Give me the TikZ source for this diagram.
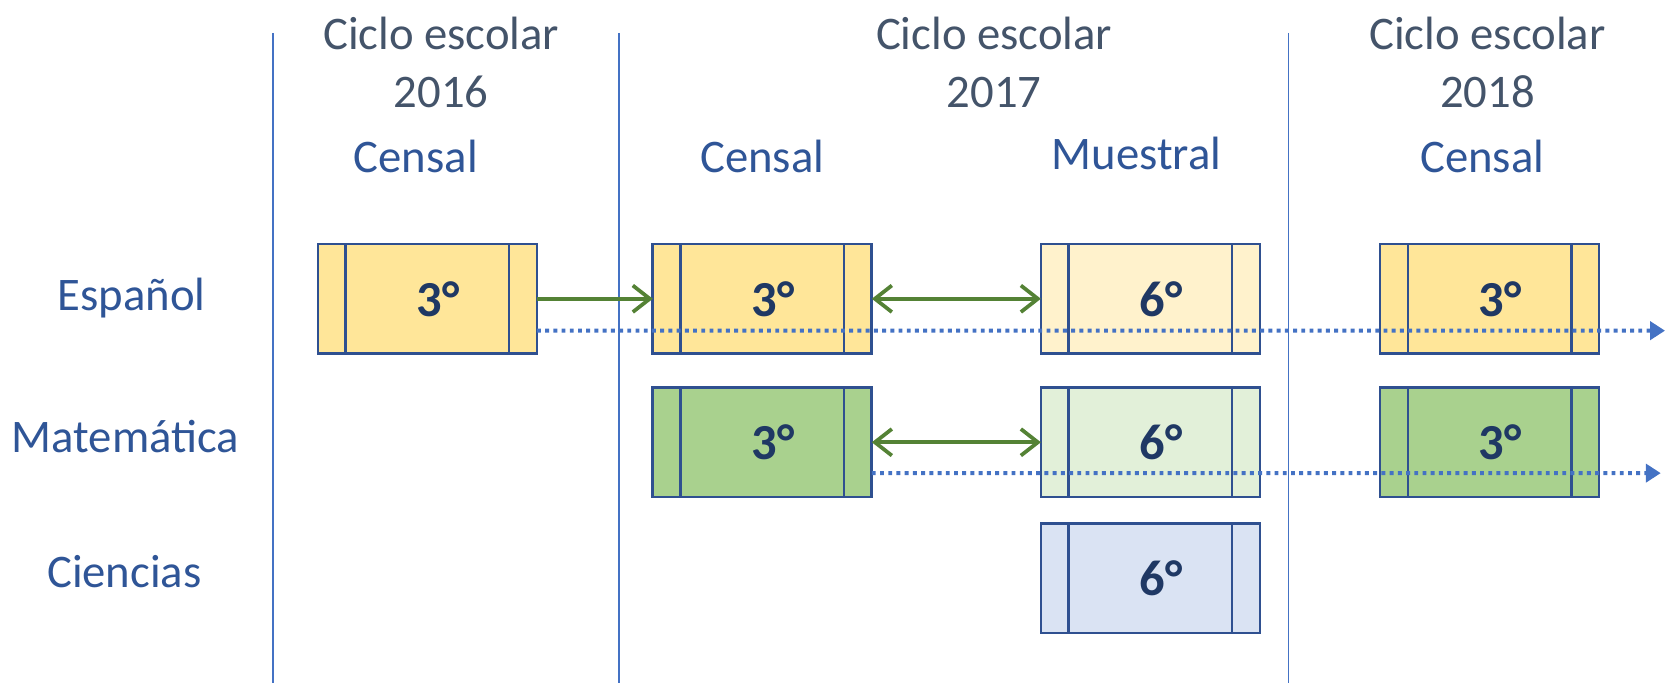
\documentclass[tikz,border=0pt]{standalone}
\usepackage{fontspec}
\setmainfont{Carlito}
\usetikzlibrary{arrows.meta, positioning}

\definecolor{titulo}{HTML}{44546A}
\definecolor{azul}{HTML}{2F5597}
\definecolor{borde}{HTML}{2F5090}
\definecolor{numero}{HTML}{1F3864}
\definecolor{linea}{HTML}{4472C4}
\definecolor{verde}{HTML}{548235}
\definecolor{amarillo}{HTML}{FFE699}
\definecolor{amarilloclaro}{HTML}{FFF2CC}
\definecolor{verdeo}{HTML}{A9D18E}
\definecolor{verdeclaro}{HTML}{E2F0D9}
\definecolor{azulclaro}{HTML}{DAE3F3}

\tikzset{
    caja/.style={draw=borde, line width=1.5pt, fill=#1, minimum width=4.12cm, minimum height=2.06cm,
        inner sep=0pt, outer sep=0pt, text=numero, font=\fontsize{27}{30}\selectfont\bfseries,
        execute at begin node={\hspace*{0.4cm}},
        path picture={
            \draw[borde, line width=1.3pt]
                ([xshift=0.52cm]path picture bounding box.north west) -- ([xshift=0.52cm]path picture bounding box.south west)
                ([xshift=-0.52cm]path picture bounding box.north east) -- ([xshift=-0.52cm]path picture bounding box.south east);
        }},
    ciclo/.style={text=titulo, align=center, font=\fontsize{25}{31}\selectfont},
    tipo/.style={text=azul, font=\fontsize{25}{30}\selectfont},
    materia/.style={text=azul, anchor=base, font=\fontsize{25}{30}\selectfont},
    division/.style={linea, line width=0.9pt},
    flecha/.style={verde, line width=2pt, -{Straight Barb[length=0.32cm,width=0.5cm]}},
    dobleflecha/.style={verde, line width=2pt, {Straight Barb[length=0.32cm,width=0.5cm]}-{Straight Barb[length=0.32cm,width=0.5cm]}},
    punteado/.style={linea, line width=2.1pt, dash pattern=on 2.1pt off 2.3pt, -{Triangle[length=0.28cm,width=0.34cm]}}
}

\begin{document}
\begin{tikzpicture}[x=0.02cm, y=-0.02cm]
    \useasboundingbox (0,0) rectangle (1566,642);

    % divisiones entre ciclos
    \draw[division] (257,31) -- (257,642);
    \draw[division] (582,31) -- (582,642);
    \draw[division] (1212,31) -- (1212,642);

    % encabezados
    \node[ciclo] (c16) at (415,59) {Ciclo escolar\\2016};
    \node[ciclo] (c17) at (935,59) {Ciclo escolar\\2017};
    \node[ciclo] (c18) at (1399,59) {Ciclo escolar\\2018};
    \node[tipo] (t16) at (391,147) {Censal};
    \node[tipo] (t17c) at (717,147) {Censal};
    \node[tipo] (t17m) at (1069,144) {Muestral};
    \node[tipo] (t18) at (1394,147) {Censal};

    % materias
    \node[materia] (esp) at (124,292) {Español};
    \node[materia] (mat) at (118,426) {Matemática};
    \node[materia] (cie) at (117,553) {Ciencias};

    % cajas
    \node[caja=amarillo] (e16) at (402,281) {3°};
    \node[caja=amarillo] (e17c) at (717,281) {3°};
    \node[caja=amarilloclaro] (e17m) at (1082,281) {6°};
    \node[caja=amarillo] (e18) at (1401,281) {3°};
    \node[caja=verdeo, below=0.64cm of e17c] (m17c) {3°};
    \node[caja=verdeclaro, below=0.64cm of e17m] (m17m) {6°};
    \node[caja=verdeo, below=0.64cm of e18] (m18) {3°};
    \node[caja=azulclaro, below=0.5cm of m17m] (c17m) {6°};

    % flechas
    \draw[flecha] (e16.east) -- (e17c.west);
    \draw[dobleflecha] (e17c.east) -- (e17m.west);
    \draw[dobleflecha] (m17c.east) -- (m17m.west);

    \coordinate (finE) at (1566,311);
    \coordinate (finM) at (1562,445);
    \draw[punteado] ([yshift=-0.6cm]e16.east) -- (finE);
    \draw[punteado] ([yshift=-0.58cm]m17c.east) -- (finM);
\end{tikzpicture}
\end{document}
